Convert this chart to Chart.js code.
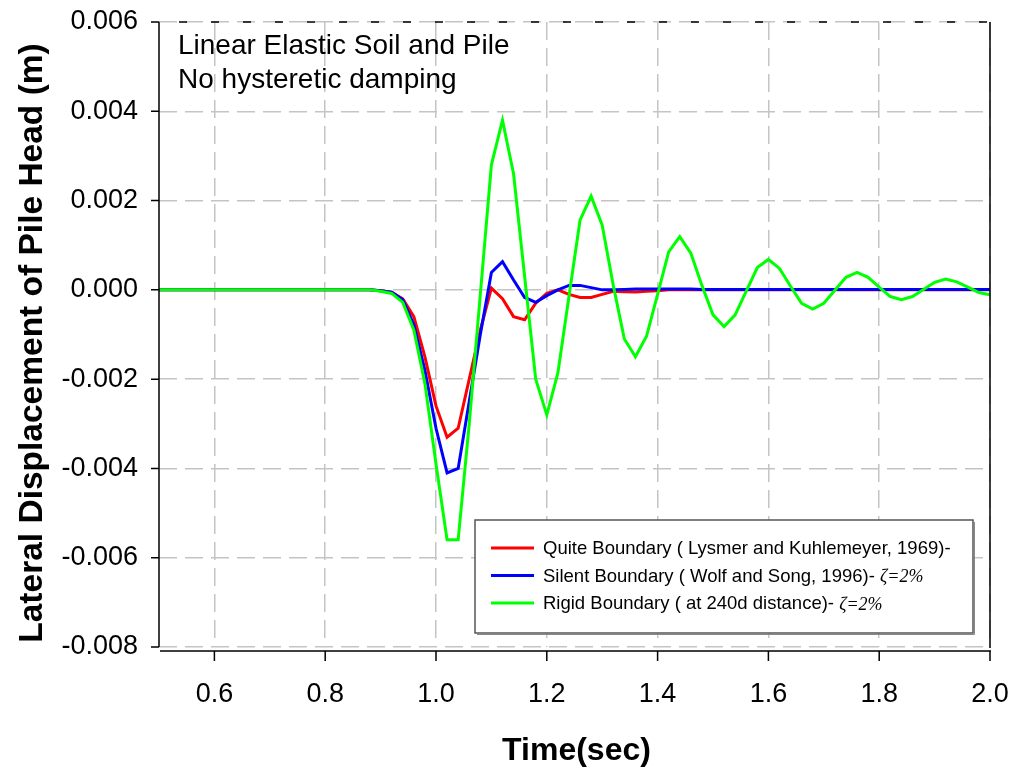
<!DOCTYPE html>
<html>
<head>
<meta charset="utf-8">
<title>Lateral displacement of pile head</title>
<script src="https://cdn.jsdelivr.net/npm/chart.js@4.4.1/dist/chart.umd.min.js"></script>
<style>
  body { margin:0; background:#fff; }
  #wrap { width:1014px; height:769px; position:relative; }
</style>
</head>
<body>
<div id="wrap"><canvas id="chart" width="1014" height="769"></canvas></div>
<script>
// time (sec)
const timeSec = [
  0.50,0.52,0.54,0.56,0.58,0.60,0.62,0.64,0.66,0.68,0.70,0.72,0.74,0.76,0.78,0.80,0.82,0.84,0.86,0.88,
  0.90,0.92,0.94,0.96,0.98,1.00,1.02,1.04,1.06,1.08,1.10,1.12,1.14,1.16,1.18,1.20,1.22,1.24,1.26,1.28,
  1.30,1.32,1.34,1.36,1.38,1.40,1.42,1.44,1.46,1.48,1.50,1.52,1.54,1.56,1.58,1.60,1.62,1.64,1.66,1.68,
  1.70,1.72,1.74,1.76,1.78,1.80,1.82,1.84,1.86,1.88,1.90,1.92,1.94,1.96,1.98,2.00
];

// lateral displacement (m) - quiet boundary
const quietBoundary = [
  0,0,0,0,0,0,0,0,0,0,0,0,0,0,0,0,0,0,0,0,
  -0.00002,-0.00005,-0.0002,-0.0006,-0.0015,-0.0026,-0.0033,-0.0031,-0.0020,-0.0009,0.00004,-0.0002,-0.0006,-0.00067,-0.0003,-0.00008,0.0,-0.0001,-0.00017,-0.00017,
  -0.0001,-0.00003,-0.00004,-0.00005,-0.00003,-0.00002,0,0,0,0,0,0,0,0,0,0,0,0,0,0,
  0,0,0,0,0,0,0,0,0,0,0,0,0,0,0,0
];

// silent boundary
const silentBoundary = [
  0,0,0,0,0,0,0,0,0,0,0,0,0,0,0,0,0,0,0,0,
  -0.00002,-0.00005,-0.00022,-0.00078,-0.0018,-0.0031,-0.0041,-0.0040,-0.0025,-0.0010,0.00039,0.00063,0.00022,-0.00017,-0.00028,-0.00013,0.0,0.0001,0.0001,0.00005,
  0.0,0.0,0.00001,0.00002,0.00002,0.00002,0.00002,0.00002,0.00002,0.00001,0.00001,0.00001,0.00001,0.00001,0.00001,0.00001,0.00001,0.00001,0.00001,0.00001,
  0.00001,0.00001,0.00001,0.00001,0.00001,0.00001,0.00001,0.00001,0.00001,0.00001,0.00001,0.00001,0.00001,0.00001,0.00001,0.00001
];

// rigid boundary
const rigidBoundary = [
  0,0,0,0,0,0,0,0,0,0,0,0,0,0,0,0,0,0,0,0,
  -0.00003,-0.00008,-0.00028,-0.0009,-0.0021,-0.0039,-0.0056,-0.0056,-0.0030,-0.0001,0.0028,0.0038,0.0026,0.0003,-0.0020,-0.0028,-0.00186,-0.00015,0.00156,0.0021,
  0.00145,0.0001,-0.0011,-0.0015,-0.00104,-0.0001,0.00085,0.00119,0.00082,0.0001,-0.00056,-0.00082,-0.00056,-0.00003,0.0005,0.00068,0.00048,0.00008,-0.0003,-0.00043,
  -0.0003,-0.00001,0.00028,0.00039,0.00028,0.00006,-0.00015,-0.00022,-0.00015,0.00001,0.00017,0.00024,0.00018,0.00006,-0.00006,-0.00011
];

const xTicks = [0.6,0.8,1.0,1.2,1.4,1.6,1.8,2.0];
const yTicks = [-0.008,-0.006,-0.004,-0.002,0.000,0.002,0.004,0.006];

const legendItems = [
  { text:"Quite Boundary ( Lysmer and Kuhlemeyer, 1969)-", zeta:"", color:"#ff0000" },
  { text:"Silent Boundary ( Wolf and Song, 1996)- ", zeta:"\u03b6=2%", color:"#0000ff" },
  { text:"Rigid Boundary ( at 240d distance)- ", zeta:"\u03b6=2%", color:"#00ff00" }
];
const noteLines = ["Linear Elastic Soil and Pile", "No hysteretic damping"];

function pts(ys){ return timeSec.map((t,i)=>({x:t, y:ys[i]})); }

// axes, frame, titles, note and legend drawn on top
const decor = {
  id:"decor",
  afterDraw(chart){
    const c = chart.ctx, a = chart.chartArea;
    const xs = chart.scales.x, ys = chart.scales.y;
    c.save();
    c.strokeStyle = "#000"; c.lineWidth = 1.5; c.setLineDash([]);
    // left axis + ticks
    c.beginPath();
    c.moveTo(a.left, a.top); c.lineTo(a.left, a.bottom);
    yTicks.forEach(v=>{ const y = ys.getPixelForValue(v); c.moveTo(a.left-8, y); c.lineTo(a.left, y); });
    // bottom axis (offset) + ticks
    const xb = a.bottom + 4;
    c.moveTo(a.left+1, xb); c.lineTo(a.right+1, xb);
    xTicks.forEach(v=>{ const x = xs.getPixelForValue(v); c.moveTo(x, xb); c.lineTo(x, xb+10); });
    // right frame
    c.moveTo(a.right, a.top); c.lineTo(a.right, a.bottom+1);
    c.stroke();
    // dark dashes on top line
    c.setLineDash([8,24]); c.beginPath(); c.moveTo(a.left+20, a.top); c.lineTo(a.right, a.top); c.stroke();
    c.setLineDash([]);

    // axis titles
    c.fillStyle = "#000";
    c.font = "bold 32px 'Liberation Sans', Arial, sans-serif";
    c.textAlign = "center"; c.textBaseline = "alphabetic";
    c.fillText("Time(sec)", (a.left+a.right)/2 + 2, 760);
    c.save();
    c.translate(42, 343); c.rotate(-Math.PI/2);
    c.font = "bold 33.5px 'Liberation Sans', Arial, sans-serif";
    c.fillText("Lateral Displacement of Pile Head (m)", 0, 0);
    c.restore();

    // note
    c.font = "28px 'Liberation Sans', Arial, sans-serif";
    c.textAlign = "left";
    c.fillText(noteLines[0], 178, 54);
    c.fillText(noteLines[1], 178, 88);

    // legend box
    const bx = 475, by = 520, bw = 498, bh = 113;
    c.fillStyle = "#fff"; c.fillRect(bx, by, bw, bh);
    c.strokeStyle = "#555"; c.lineWidth = 1.5;
    c.strokeRect(bx, by, bw, bh);
    c.strokeStyle = "#888"; c.lineWidth = 1;
    c.beginPath(); c.moveTo(bx+bw+1.5, by+2); c.lineTo(bx+bw+1.5, by+bh+1.5); c.lineTo(bx+2, by+bh+1.5); c.stroke();
    legendItems.forEach((it,i)=>{
      const y = 548 + i*27.5;
      c.strokeStyle = it.color; c.lineWidth = 3;
      c.beginPath(); c.moveTo(491, y); c.lineTo(534, y); c.stroke();
      c.fillStyle = "#000";
      c.font = "18.5px 'Liberation Sans', Arial, sans-serif";
      c.textBaseline = "middle";
      c.fillText(it.text, 543, y+1);
      if (it.zeta) {
        const w = c.measureText(it.text).width;
        c.font = "italic 18px 'Liberation Serif', 'Times New Roman', serif";
        c.fillText(it.zeta, 543 + w, y+2);
      }
    });
    c.restore();
  }
};

new Chart(document.getElementById("chart"), {
  type: "scatter",
  data: {
    datasets: [
      { label:"Rigid Boundary", data: pts(rigidBoundary), borderColor:"#00ff00", order:0 },
      { label:"Silent Boundary", data: pts(silentBoundary), borderColor:"#0000ff", order:1 },
      { label:"Quite Boundary", data: pts(quietBoundary), borderColor:"#ff0000", order:2 }
    ].map(d=>Object.assign(d, { showLine:true, borderWidth:3, pointRadius:0, tension:0, fill:false }))
  },
  options: {
    responsive:false,
    animation:false,
    layout:{ padding:{ left:0, right:24, top:22, bottom:0 } },
    plugins:{ legend:{ display:false }, tooltip:{ enabled:false } },
    scales:{
      x:{
        type:"linear", min:0.5, max:2.0,
        afterFit(s){ s.height = 122; s.paddingLeft = 0; s.paddingRight = 0; },
        afterBuildTicks(s){ s.ticks = xTicks.map(v=>({value:v})); },
        grid:{ color:"#c4c4c4", lineWidth:1.5, drawTicks:false },
        border:{ display:false, dash:[18,8] },
        ticks:{ padding:31, color:"#000", font:{ family:"'Liberation Sans', Arial, sans-serif", size:27 },
                callback:v=>v.toFixed(1), maxRotation:0, autoSkip:false }
      },
      y:{
        min:-0.008, max:0.006,
        afterFit(s){ s.width = 159; s.paddingTop = 0; s.paddingBottom = 0; },
        afterBuildTicks(s){ s.ticks = yTicks.map(v=>({value:v})); },
        grid:{ color:"#c4c4c4", lineWidth:1.5, drawTicks:false },
        border:{ display:false, dash:[18,8] },
        ticks:{ padding:21, color:"#000", font:{ family:"'Liberation Sans', Arial, sans-serif", size:27 },
                callback:v=>v.toFixed(3) }
      }
    }
  },
  plugins:[decor]
});
</script>
</body>
</html>
